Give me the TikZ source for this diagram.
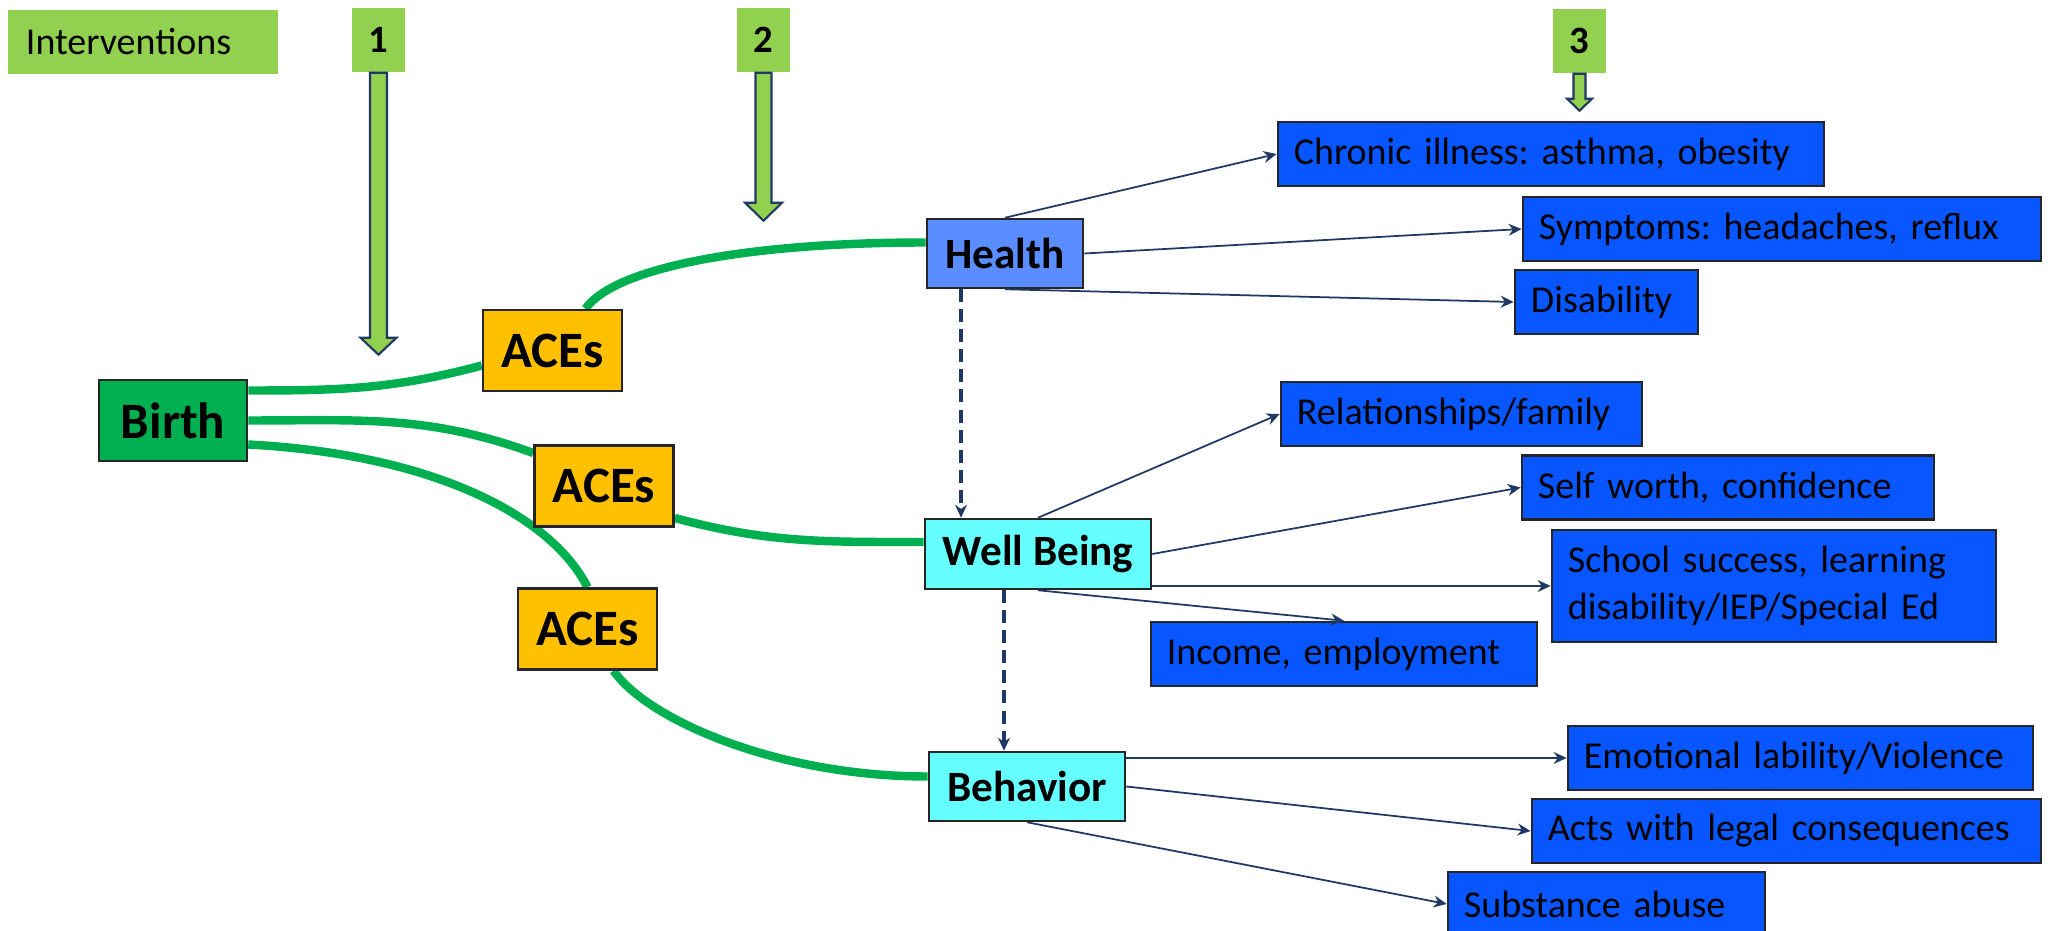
\documentclass[tikz,border=0pt]{standalone}
\usepackage{fontspec}
\setmainfont{Carlito}
\usepackage{xcolor}
\usetikzlibrary{arrows.meta, positioning, calc, backgrounds}

\definecolor{ivgreen}{HTML}{92D050}
\definecolor{acegreen}{HTML}{00B050}
\definecolor{aceorange}{HTML}{FFC000}
\definecolor{healthblue}{HTML}{5A8DFF}
\definecolor{palecyan}{HTML}{66FFFF}
\definecolor{outblue}{HTML}{0756FF}
\definecolor{navy}{HTML}{1F3864}

\begin{document}
\frenchspacing
\begin{tikzpicture}[x=0.01cm, y=-0.01cm, >={Stealth[length=3.7pt, width=3.4pt]},
		box/.style={draw=black!85, line width=0.7pt, inner sep=0pt},
		outbox/.style={box, fill=outblue, text width=#1, inner xsep=0.16cm, align=left, minimum height=0.64cm, font=\fontsize{10.8}{13.2}\selectfont},
		midbox/.style={box, font=\fontsize{12.3}{14}\selectfont\bfseries},
		acebox/.style={box, fill=aceorange, minimum width=1.39cm, minimum height=0.81cm, font=\fontsize{14.5}{16}\selectfont\bfseries},
		numbox/.style={fill=ivgreen, minimum width=0.53cm, minimum height=0.64cm, inner sep=0pt, font=\fontsize{11}{13}\selectfont\bfseries},
		blockarrow/.style={fill=ivgreen, draw=navy, line width=0.6pt, line join=miter},
		aceline/.style={acegreen, line width=2.4pt},
		link/.style={->, navy, line width=0.5pt},
		flow/.style={->, navy, line width=0.9pt, dash pattern=on 3.7pt off 2pt}]
			\useasboundingbox (0,0) rectangle (2055,931);
			\node[fill=ivgreen, text width=2.34cm, inner xsep=0.18cm, align=left, minimum height=0.64cm, font=\fontsize{10.8}{13}\selectfont] (interv) at (143,42) {Interventions};
			\node[numbox] (n1) at (378.5,40) {1};
			\node[numbox] (n2) at (763.5,40) {2};
			\node[numbox] (n3) at (1579.5,41) {3};
			\foreach \n/\s/\h/\len/\k in {n1/8.5/18/265/17, n2/8/18.5/130/18, n3/6/12.5/25/12}
				\draw[blockarrow] ($(\n.south)+(-\s,0)$) -- ++(0,\len) -- ++({\s-\h},0) -- ++(\h,\k) -- ++(\h,-\k) -- ++({\s-\h},0) -- ++(0,-\len) -- cycle;
			\node[box, fill=acegreen, minimum width=1.48cm, minimum height=0.81cm, font=\fontsize{14.5}{16}\selectfont\bfseries] (birth) at (173,420.5) {Birth};
			\node[acebox] (aces1) at (552.5,350.5) {ACEs};
			\node[acebox] (aces2) at (604,486) {ACEs};
			\node[acebox] (aces3) at (587.5,629) {ACEs};
			\node[midbox, fill=healthblue, minimum width=1.56cm, minimum height=0.69cm] (health) at (1005,253.5) {Health};
			\node[midbox, fill=palecyan, minimum width=2.26cm, minimum height=0.70cm] (wellb) at (1038,554) {Well Being};
			\node[midbox, fill=palecyan, minimum width=1.96cm, minimum height=0.69cm] (behav) at (1027,786.5) {Behavior};
			\node[outbox=5.14cm] (chronic) at (1551,154) {Chronic illness: asthma, obesity};
			\node[outbox=4.86cm] (sympt) at (1782,229) {Symptoms: headaches, reflux};
			\node[outbox=1.51cm] (disab) at (1606.5,302) {Disability};
			\node[outbox=3.29cm] (relat) at (1461.5,414) {Relationships/family};
			\node[outbox=3.80cm] (selfw) at (1728,487.5) {Self worth, confidence};
			\node[outbox=4.12cm, minimum height=1.12cm] (school) at (1774,586) {School success, learning\\disability/IEP/Special Ed};
			\node[outbox=3.54cm] (income) at (1344,654) {Income, employment};
			\node[outbox=4.33cm] (emot) at (1800.5,758) {Emotional lability/Violence};
			\node[outbox=4.77cm] (acts) at (1786.5,831) {Acts with legal consequences};
			\node[outbox=2.85cm] (subst) at (1606.5,904) {Substance abuse};
			\begin{scope}[on background layer]
				\draw[aceline] ($(birth.east)+(0,-30)$) to[out=0, in=195] ($(aces1.west)+(0,15)$);
				\draw[aceline] ($(aces1.north)+(33,0)$) to[out=55, in=180, out distance=0.5cm, in distance=1.8cm] ($(health.west)+(0,-11)$);
				\draw[aceline] (birth.east) to[out=0, in=160] ($(aces2.west)+(0,-33)$);
				\draw[aceline] ($(aces2.east)+(0,32)$) to[out=-15, in=180] ($(wellb.west)+(0,-12)$);
				\draw[aceline] ($(birth.east)+(0,24)$) to[out=-3, in=117, out distance=1.79cm, in distance=0.84cm] (aces3.north);
				\draw[aceline] ($(aces3.south)+(26,0)$) to[out=-55, in=180, out distance=0.6cm, in distance=1.5cm] ($(behav.west)+(0,-10)$);
			\end{scope}
			\draw[link] (health.north) -- (chronic.west);
			\draw[link] (health.east) -- (sympt.west);
			\draw[link] (health.south) -- (disab.west);
			\draw[link] (wellb.north) -- (relat.west);
			\draw[link] (wellb.east) -- (selfw.west);
			\draw[link] (wellb.east |- school.west) -- (school.west);
			\draw[link] (wellb.south) -- (income.north);
			\draw[link] (behav.east |- emot.west) -- (emot.west);
			\draw[link] (behav.east) -- (acts.west);
			\draw[link] (behav.south) -- (subst.west);
			\coordinate (hdash) at ($(health.south)+(-44,0)$);
			\coordinate (wdash) at ($(wellb.south)+(-34,0)$);
			\draw[flow] (hdash) -- (hdash |- wellb.north);
			\draw[flow] (wdash) -- (wdash |- behav.north);
		\end{tikzpicture}
\end{document}
